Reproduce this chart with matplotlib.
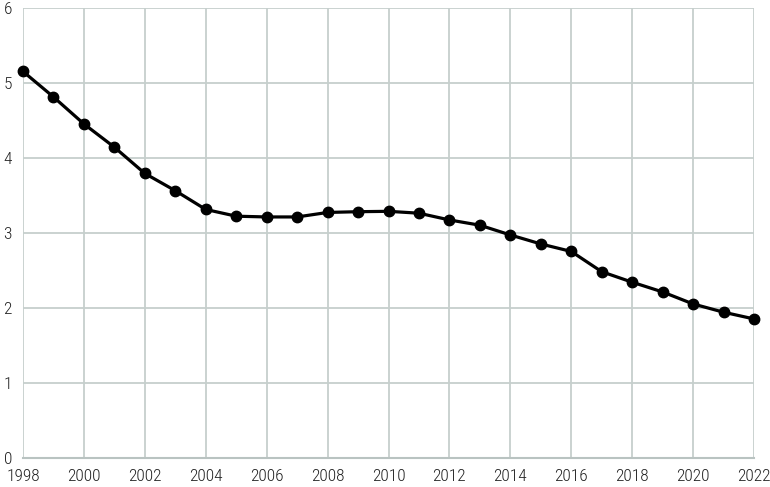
import matplotlib
matplotlib.use("Agg")
import matplotlib.pyplot as plt
from matplotlib import font_manager

years = list(range(1998, 2023))
values = [5.15, 4.81, 4.45, 4.14, 3.79, 3.56, 3.31, 3.22, 3.21, 3.21,
          3.27, 3.28, 3.285, 3.26, 3.17, 3.10, 2.97, 2.85, 2.75, 2.48,
          2.34, 2.21, 2.05, 1.94, 1.85]
x_ticks = list(range(1998, 2023, 2))
y_ticks = [0, 1, 2, 3, 4, 5, 6]

avail = {f.name for f in font_manager.fontManager.ttflist}
fam = [f for f in ["Liberation Sans Narrow", "DejaVu Sans Condensed", "Roboto Condensed", "Lato", "DejaVu Sans"] if f in avail]

grid_c = "#c6cfcd"
fig = plt.figure(figsize=(7.70, 4.87), dpi=100)
ax = fig.add_axes([23/770, 29.3/487, 731/770, 450/487])
ax.plot(years, values, color="black", lw=2.3, marker="o", ms=7.5, zorder=3, clip_on=False)
ax.set_xlim(1998, 2022)
ax.set_ylim(0, 6)
ax.set_xticks(x_ticks)
ax.set_yticks(y_ticks)
ax.grid(True, color=grid_c, lw=1.3)
for s in ["top", "right", "left"]:
    ax.spines[s].set_visible(False)
ax.spines["bottom"].set_color("#b9c3c1")
ax.spines["bottom"].set_linewidth(1.5)
ax.tick_params(length=0, labelsize=12.5, labelcolor="#222222")
ax.tick_params(axis="x", pad=8)
ax.tick_params(axis="y", pad=14)
for lab in ax.get_xticklabels() + ax.get_yticklabels():
    lab.set_family(fam)
    lab.set_fontweight("light")
for lab in ax.get_yticklabels():
    lab.set_horizontalalignment("left")
fig.savefig("out.png", dpi=100)
